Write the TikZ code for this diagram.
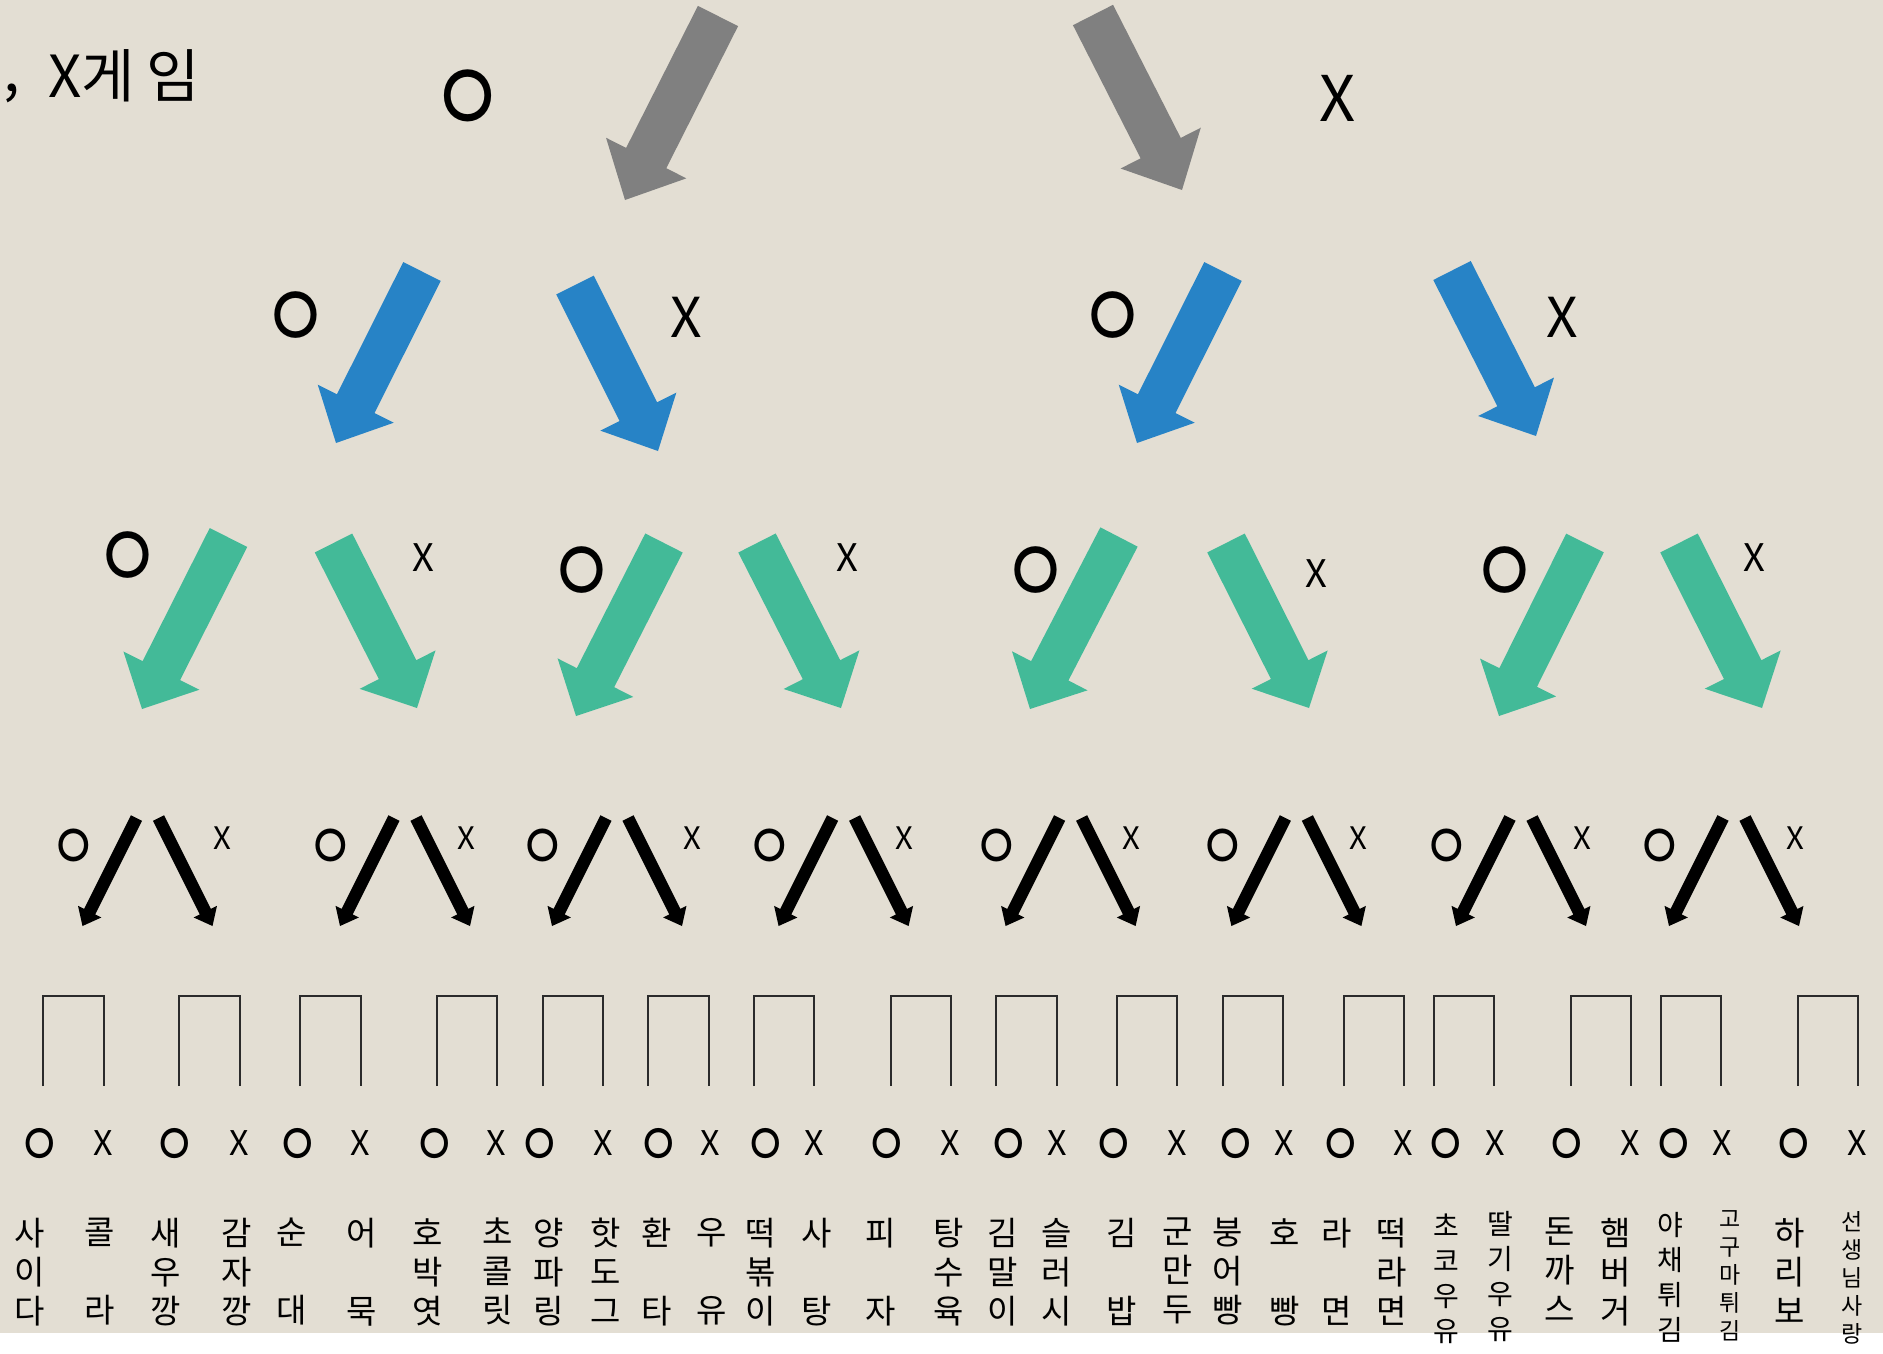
\documentclass[tikz,border=0pt]{standalone}
\usepackage{fontspec}
\newfontfamily\kr{Noto Sans CJK KR}
\usetikzlibrary{calc}
\definecolor{bg}{HTML}{E3DED3}
\definecolor{arrgray}{HTML}{808080}
\definecolor{arrblue}{HTML}{2783C6}
\definecolor{arrgreen}{HTML}{43BA98}
\definecolor{lineblk}{HTML}{2B2B2B}
% tail, tip, half shaft, half head, head length, colour
\newcommand\fatarrow[6]{%
  \coordinate (#1-neck) at ($(#2)!#5!(#1)$);
  \fill[#6] ($(#1)!#3!90:(#2)$) -- ($(#1-neck)!#3!90:(#2)$) -- ($(#1-neck)!#4!90:(#2)$) -- (#2)
     -- ($(#1-neck)!#4!-90:(#2)$) -- ($(#1-neck)!#3!-90:(#2)$) -- ($(#1)!#3!-90:(#2)$) -- cycle;
}
\newcommand\fthree{\kr\fontsize{33}{39}\selectfont}
\newcommand\ffour{\kr\fontsize{28}{35}\selectfont}
\newcommand\ffive{\kr\fontsize{23}{28}\selectfont}
\newcommand\fs[1]{\kr\fontsize{#1}{#1}\selectfont}
\newcommand\ring{\scalebox{1.1}[1.38]{ㅇ}}
\begin{document}
\begin{tikzpicture}[x=1pt,y=-1pt,
  lab/.style={inner sep=0pt, font=\kr},
  olab/.style={inner sep=0pt, font=\fs{#1}, yshift={-0.092pt*#1}},
  food/.style={anchor=north, align=center, inner sep=0pt},
  bracket/.style={draw=lineblk, line width=1.4pt},
]
\useasboundingbox (0,0) rectangle (1883,1354);
\fill[white] (0,0) rectangle (1883,1354);
\fill[bg] (0,0) rectangle (1883,1333);

% title
\node[lab, anchor=base west, font=\fs{60}] (comma) at (3,92) {,};
\node[lab, anchor=base west, font=\fs{58}] (title) at (48,97) {X게\kern12pt 임};

% level 0 (gray)
\node[olab=76] (L0o) at (468,96) {\ring};
\node[lab, font=\fs{63}] (L0x) at (1338,98) {X};
\coordinate (g1t) at (718,16);  \coordinate (g1h) at (625,200);
\coordinate (g2t) at (1093,15); \coordinate (g2h) at (1182,190);
\fatarrow{g1t}{g1h}{22.5pt}{45pt}{47pt}{arrgray}
\fatarrow{g2t}{g2h}{22.5pt}{45pt}{47pt}{arrgray}

% level 1 (blue)
\node[olab=68] (L1o1) at (296,315) {\ring};
\node[lab, font=\fs{55}] (L1x1) at (686,317) {X};
\node[olab=68] (L1o2) at (1113,315) {\ring};
\node[lab, font=\fs{55}] (L1x2) at (1562,317) {X};
\foreach \ax/\ay/\bx/\by [count=\i] in {422/271.5/336/443, 575/285/658/451, 1223/271.5/1137/443, 1452/270.5/1536/436}{
  \coordinate (bT\i) at (\ax,\ay); \coordinate (bH\i) at (\bx,\by);
  \fatarrow{bT\i}{bH\i}{21pt}{42.5pt}{44pt}{arrblue}
}

% level 2 (green)
\foreach \x/\y [count=\i] in {128/555, 582/570, 1036/570, 1505/570}{
  \node[olab=68] (L2o\i) at (\x,\y) {\ring};
}
\foreach \x/\y [count=\i] in {423/558, 847/558, 1316/574, 1754/558}{
  \node[lab, font=\fs{38}] (L2x\i) at (\x,\y) {X};
}
\foreach \ax/\ay/\bx/\by [count=\i] in {228.5/537.5/142/709, 333.5/543/417/708, 664/543/576/716, 757/543/841/708,
   1119/537/1030/709, 1226/543/1309/708, 1585/543/1499/716, 1679/543/1762/708}{
  \coordinate (gT\i) at (\ax,\ay); \coordinate (gH\i) at (\bx,\by);
  \fatarrow{gT\i}{gH\i}{21pt}{42.5pt}{43pt}{arrgreen}
}

% level 3 (black)
\foreach \c/\xo [count=\i] in {147.5/75, 405/61, 617/75, 843.6/61, 1070.6/61, 1296.4/62, 1521/61, 1734/61}{
  \node[olab=48] (kO\i) at (\c-74,845) {\ring};
  \node[lab, font=\fs{31}] (kX\i) at (\c+\xo,838) {X};
  \coordinate (kL\i) at (\c-11,818); \coordinate (kLh\i) at (\c-65,926);
  \coordinate (kR\i) at (\c+11,818); \coordinate (kRh\i) at (\c+65,926);
  \fatarrow{kL\i}{kLh\i}{6.2pt}{13pt}{16pt}{black}
  \fatarrow{kR\i}{kRh\i}{6.2pt}{13pt}{16pt}{black}
}

% brackets
\foreach \a/\b [count=\i] in {43/104, 179/240, 300/361, 437/497, 543/603, 648/709, 754/814, 891/951,
   996/1057, 1117/1177, 1223/1283, 1344/1404, 1434/1494, 1571/1631, 1661/1721, 1798/1858}{
  \draw[bracket] (\a,1086) -- (\a,996) -- (\b,996) -- (\b,1086);
}

% bottom O / X row
\foreach \x [count=\i] in {40, 175, 298, 435, 540, 659, 766, 887, 1009, 1114, 1236, 1341, 1446, 1567, 1674, 1794}{
  \node[olab=44] (bo\i) at (\x,1143) {\ring};
}
\foreach \x [count=\i] in {103, 239, 360, 496, 603, 710, 814, 950, 1057, 1177, 1284, 1403, 1495, 1630, 1722, 1857}{
  \node[lab, font=\fs{34}] (bx\i) at (\x,1143) {X};
}

% food names
\node[food, font=\fthree] (f1) at (30,1218) {사\\이\\다};
\node[food, font=\fthree] (f2) at (100,1218) {콜\\[39pt]라};
\node[food, font=\fthree] (f3) at (166,1218) {새\\우\\깡};
\node[food, font=\fthree] (f4) at (237,1218) {감\\자\\깡};
\node[food, font=\fthree] (f5) at (292,1218) {순\\[39pt]대};
\node[food, font=\fthree] (f6) at (362,1218) {어\\[39pt]묵};
\node[food, font=\fthree] (f7) at (428,1218) {호\\박\\엿};
\node[food, font=\fthree] (f8) at (498,1218) {초\\콜\\릿};
\node[food, font=\fthree] (f9) at (549,1218) {양\\파\\링};
\node[food, font=\fthree] (f10) at (606,1218) {핫\\도\\그};
\node[food, font=\fthree] (f11) at (657,1218) {환\\[39pt]타};
\node[food, font=\fthree] (f12) at (712,1218) {우\\[39pt]유};
\node[food, font=\fthree] (f13) at (761,1218) {떡\\볶\\이};
\node[food, font=\fthree] (f14) at (817,1218) {사\\[39pt]탕};
\node[food, font=\fthree] (f15) at (881,1218) {피\\[39pt]자};
\node[food, font=\fthree] (f16) at (949,1218) {탕\\수\\육};
\node[food, font=\fthree] (f17) at (1003,1218) {김\\말\\이};
\node[food, font=\fthree] (f18) at (1057,1218) {슬\\러\\시};
\node[food, font=\fthree] (f19) at (1122,1218) {김\\[39pt]밥};
\node[food, font=\fthree] (f20) at (1178,1218) {군\\만\\두};
\node[food, font=\fthree] (f21) at (1228,1218) {붕\\어\\빵};
\node[food, font=\fthree] (f22) at (1285,1218) {호\\[39pt]빵};
\node[food, font=\fthree] (f23) at (1337,1218) {라\\[39pt]면};
\node[food, font=\fthree] (f24) at (1392,1218) {떡\\라\\면};
\node[food, font=\ffour] (f25) at (1446,1214) {초\\코\\우\\유};
\node[food, font=\ffour] (f26) at (1500,1211) {딸\\기\\우\\유};
\node[food, font=\fthree] (f27) at (1560,1218) {돈\\까\\스};
\node[food, font=\fthree] (f28) at (1616,1218) {햄\\버\\거};
\node[food, font=\ffour] (f29) at (1670,1212) {야\\채\\튀\\김};
\node[food, font=\ffive] (f30) at (1730,1210) {고\\구\\마\\튀\\김};
\node[food, font=\fthree] (f31) at (1790,1218) {하\\리\\보};
\node[food, font=\ffive] (f32) at (1852,1211) {선\\생\\님\\사\\랑};
\end{tikzpicture}
\end{document}
